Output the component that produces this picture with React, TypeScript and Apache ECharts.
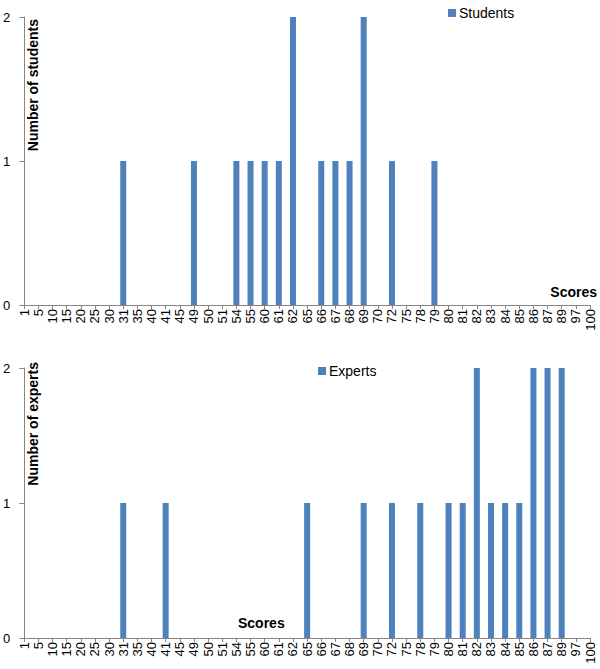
import React, { useEffect, useRef } from "react";
import * as echarts from "echarts";

const categories = ["1","5","10","15","20","25","30","31","35","40","41","45","49","50","51","54","55","60","61","62","65","66","67","68","69","70","72","75","78","79","80","81","82","83","84","85","86","87","89","97","100"];

const studentCounts: Record<string, number> = { "31": 1, "49": 1, "54": 1, "55": 1, "60": 1, "61": 1, "62": 2, "66": 1, "67": 1, "68": 1, "69": 2, "72": 1, "79": 1 };
const expertCounts: Record<string, number> = { "31": 1, "41": 1, "65": 1, "69": 1, "72": 1, "78": 1, "80": 1, "81": 1, "82": 2, "83": 1, "84": 1, "85": 1, "86": 2, "87": 2, "89": 2 };

const studentValues = categories.map((c) => studentCounts[c] ?? 0);
const expertValues = categories.map((c) => expertCounts[c] ?? 0);

const yTicks = [0, 1, 2];

const FONT = "Liberation Sans, Arial, sans-serif";
const BAR = "#4F81BD";
const AXIS = "#868686";

export default function App() {
  const ref = useRef<HTMLDivElement>(null);
  useEffect(() => {
    if (!ref.current) return;
    const chart = echarts.init(ref.current, null, { renderer: "svg" });
    const xAxisBase = {
      type: "category" as const,
      data: categories,
      boundaryGap: false,
      axisLine: { show: true, lineStyle: { color: AXIS, width: 1 } },
      axisTick: { show: true, interval: 0, length: 4, lineStyle: { color: AXIS } },
      axisLabel: { interval: 0, rotate: 90, fontSize: 13, color: "#000", fontFamily: FONT, margin: 4 },
      splitLine: { show: false },
    };
    const yAxisBase = {
      type: "value" as const,
      min: yTicks[0],
      max: yTicks[yTicks.length - 1],
      interval: 1,
      axisLine: { show: true, lineStyle: { color: AXIS, width: 1 } },
      axisTick: { show: true, length: 5, lineStyle: { color: AXIS } },
      axisLabel: { fontSize: 13, color: "#000", fontFamily: FONT, margin: 14 },
      splitLine: { show: false },
    };
    chart.setOption({
      animation: false,
      backgroundColor: "#fff",
      textStyle: { fontFamily: FONT },
      grid: [
        { left: 21, right: 10, top: 17, height: 288 },
        { left: 21, right: 10, top: 368, height: 270 },
      ],
      xAxis: [
        { ...xAxisBase, gridIndex: 0 },
        { ...xAxisBase, gridIndex: 1 },
      ],
      yAxis: [
        { ...yAxisBase, gridIndex: 0 },
        { ...yAxisBase, gridIndex: 1 },
      ],
      legend: [
        {
          data: ["Students"],
          left: 443,
          top: 1,
          icon: "rect",
          itemWidth: 8,
          itemHeight: 8,
          itemGap: 4,
          textStyle: { fontSize: 14, color: "#000", fontFamily: FONT, padding: [0, 0, 0, -2] },
        },
        {
          data: ["Experts"],
          left: 313,
          top: 359,
          icon: "rect",
          itemWidth: 8,
          itemHeight: 8,
          textStyle: { fontSize: 14, color: "#000", fontFamily: FONT, padding: [0, 0, 0, -2] },
        },
      ],
      series: [
        {
          name: "Students",
          type: "bar",
          xAxisIndex: 0,
          yAxisIndex: 0,
          data: studentValues,
          barWidth: 6,
          itemStyle: { color: BAR },
        },
        {
          name: "Experts",
          type: "bar",
          xAxisIndex: 1,
          yAxisIndex: 1,
          data: expertValues,
          barWidth: 6,
          itemStyle: { color: BAR },
        },
      ],
      graphic: [
        {
          type: "text",
          x: 33,
          y: 19,
          rotation: Math.PI / 2,
          style: { text: "Number of students", font: `bold 14px ${FONT}`, fill: "#000", align: "right", verticalAlign: "middle" },
        },
        {
          type: "text",
          x: 33,
          y: 362,
          rotation: Math.PI / 2,
          style: { text: "Number of experts", font: `bold 14px ${FONT}`, fill: "#000", align: "right", verticalAlign: "middle" },
        },
        {
          type: "text",
          x: 597,
          y: 292,
          style: { text: "Scores", font: `bold 14px ${FONT}`, fill: "#000", align: "right", verticalAlign: "middle" },
        },
        {
          type: "text",
          x: 238,
          y: 623,
          style: { text: "Scores", font: `bold 14px ${FONT}`, fill: "#000", align: "left", verticalAlign: "middle" },
        },
      ],
    });
    return () => chart.dispose();
  }, []);
  return (
    <div
      ref={ref}
      style={{ position: "fixed", left: 0, top: 0, width: 600, height: 669, background: "#fff" }}
    />
  );
}
